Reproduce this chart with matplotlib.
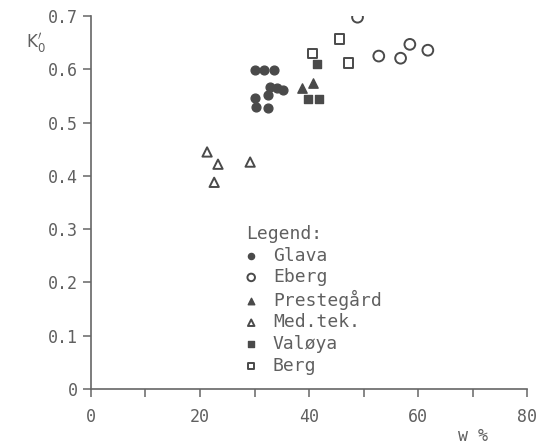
import matplotlib
matplotlib.use("Agg")
from matplotlib import pyplot as plt

plt.rcParams['font.family'] = ['DejaVu Sans Mono', 'DejaVu Sans']

ink = "#4a4a4a"
txt = "#606060"

# values (w %, K'0)
glava_w = [30.0, 31.8, 33.6, 32.9, 34.2, 35.3, 32.5, 30.0, 30.3, 32.5]
glava_k = [0.599, 0.599, 0.599, 0.567, 0.565, 0.561, 0.552, 0.546, 0.529, 0.527]

eberg_w = [48.9, 52.8, 56.8, 58.5, 61.8]
eberg_k = [0.698, 0.625, 0.621, 0.647, 0.636]

preste_w = [38.8, 40.8]
preste_k = [0.565, 0.574]

medtek_w = [21.3, 23.3, 22.6, 29.2]
medtek_k = [0.445, 0.422, 0.388, 0.426]

valoya_w = [39.9, 41.9, 41.4]
valoya_k = [0.544, 0.544, 0.610]

berg_w = [40.6, 45.6, 47.2]
berg_k = [0.630, 0.657, 0.612]

xticks = [0, 10, 20, 30, 40, 50, 60, 70, 80]
xlabels = ["0", "", "20", "", "40", "", "60", "", "80"]
yticks = [0, 0.1, 0.2, 0.3, 0.4, 0.5, 0.6, 0.7]
ylabels = ["0", "0.1", "0.2", "0.3", "0.4", "0.5", "0.6", "0.7"]

fig = plt.figure(figsize=(5.4, 4.48), dpi=100)
ax = fig.add_axes([0.1685, 0.1317, 0.8075, 0.8323])

ax.scatter(glava_w, glava_k, marker="o", s=40, color=ink, label="Glava")
ax.scatter(eberg_w, eberg_k, marker="o", s=60, facecolors="none", edgecolors=ink, linewidths=1.4, label="Eberg")
ax.scatter(preste_w, preste_k, marker="^", s=45, color=ink, label="Prestegård")
ax.scatter(medtek_w, medtek_k, marker="^", s=45, facecolors="none", edgecolors=ink, linewidths=1.4, label="Med.tek.")
ax.scatter(valoya_w, valoya_k, marker="s", s=38, color=ink, label="Valøya")
ax.scatter(berg_w, berg_k, marker="s", s=45, facecolors="none", edgecolors=ink, linewidths=1.4, label="Berg")

ax.set_xlim(0, 80)
ax.set_ylim(0, 0.7)
ax.set_xticks(xticks)
ax.set_xticklabels(xlabels)
ax.set_yticks(yticks)
ax.set_yticklabels(ylabels)

for s in ["top", "right"]:
    ax.spines[s].set_visible(False)
for s in ["left", "bottom"]:
    ax.spines[s].set_color("#666666")
    ax.spines[s].set_linewidth(1.2)
ax.tick_params(colors="#666666", labelcolor=txt, labelsize=12, length=6, width=1.1)
ax.tick_params(axis="x", pad=8)

leg = ax.legend(title="Legend:", frameon=False, loc="upper left",
                bbox_to_anchor=(0.355, 0.44), borderaxespad=0, borderpad=0,
                fontsize=13, title_fontsize=13, labelspacing=0.2,
                handlelength=0.6, handletextpad=0.9, markerscale=0.7,
                alignment="left")
for t in leg.get_texts():
    t.set_color(txt)
leg.get_title().set_color(txt)

fig.text(0.048, 0.895, r"K$_0^{\prime}$", fontsize=12, color=txt, family="DejaVu Sans")
fig.text(0.848, 0.015, "w %", fontsize=12, color=txt)

fig.savefig("out.png", dpi=100)
